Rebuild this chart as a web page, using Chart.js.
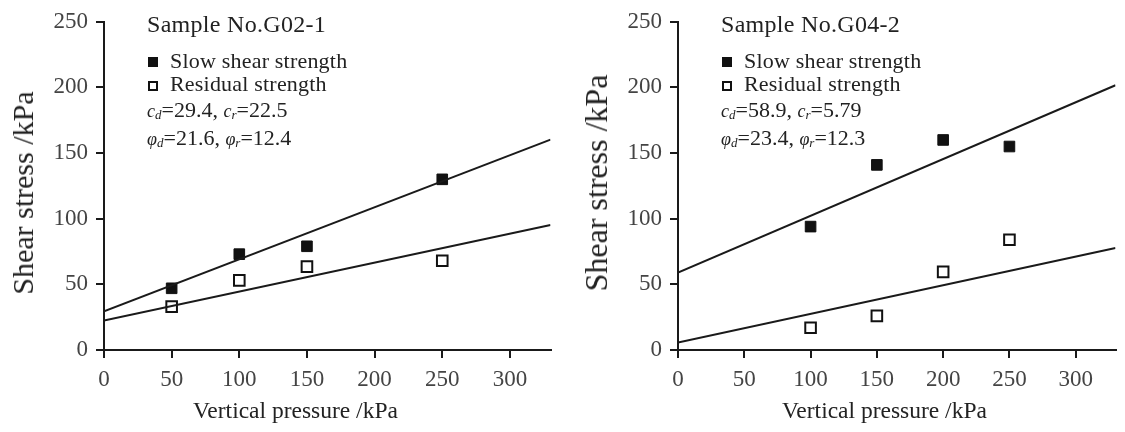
<!DOCTYPE html>
<html lang="en">
<head>
    <meta charset="UTF-8">
    <title>Shear strength vs vertical pressure</title>
    <script src="https://cdn.jsdelivr.net/npm/chart.js"></script>
    <style>
        * {
            margin: 0;
            padding: 0;
            box-sizing: border-box;
        }

        body {
            width: 1125px;
            height: 432px;
            overflow: hidden;
            background: #fff;
            font-family: 'Liberation Serif', 'Times New Roman', serif;
            color: #222;
        }

        .panel {
            position: absolute;
            top: 0;
            height: 432px;
        }

        #panelLeft { left: 0; width: 560px; }
        #panelRight { left: 574px; width: 551px; }

        .txt {
            position: absolute;
            white-space: nowrap;
            line-height: 1;
        }

        .sample { left: 147px; top: 12px; font-size: 24px; letter-spacing: 0.3px; }
        .item { left: 170px; font-size: 22px; letter-spacing: 0.2px; }
        .item1 { top: 50px; }
        .item2 { top: 73px; }
        .param { left: 147px; font-size: 22px; }
        .param1 { top: 99px; }
        .param2 { top: 127px; }
        .param i { font-size: 18px; }
        .param sub { font-size: 13px; font-style: italic; vertical-align: -2px; }

        .mark {
            position: absolute;
            left: 148px;
            width: 10px;
            height: 10px;
        }
        .mark1 { top: 57px; background: #111; }
        .mark2 { top: 81px; border: 2px solid #111; background: #fff; }

        .ytitle {
            position: absolute;
            white-space: nowrap;
            line-height: 1;
            left: 23px;
            transform: translate(-50%, -50%) rotate(-90deg);
        }

        .xtitle { top: 399px; font-size: 23.5px; }
    </style>
</head>
<body>
    <div class="panel" id="panelLeft">
        <canvas id="chartG02" width="560" height="432"></canvas>
        <div class="ytitle" style="top: 193px; font-size: 30px;">Shear stress /kPa</div>
        <div class="txt xtitle" style="left: 193px;">Vertical pressure /kPa</div>
        <div class="txt sample">Sample No.G02-1</div>
        <span class="mark mark1"></span>
        <div class="txt item item1">Slow shear strength</div>
        <span class="mark mark2"></span>
        <div class="txt item item2">Residual strength</div>
        <div class="txt param param1"><i>c</i><sub>d</sub>=29.4, <i>c</i><sub>r</sub>=22.5</div>
        <div class="txt param param2"><i>φ</i><sub>d</sub>=21.6, <i>φ</i><sub>r</sub>=12.4</div>
    </div>
    <div class="panel" id="panelRight">
        <canvas id="chartG04" width="551" height="432"></canvas>
        <div class="ytitle" style="top: 183px; font-size: 32px; left: 22px;">Shear stress /kPa</div>
        <div class="txt xtitle" style="left: 208px;">Vertical pressure /kPa</div>
        <div class="txt sample">Sample No.G04-2</div>
        <span class="mark mark1"></span>
        <div class="txt item item1">Slow shear strength</div>
        <span class="mark mark2"></span>
        <div class="txt item item2">Residual strength</div>
        <div class="txt param param1"><i>c</i><sub>d</sub>=58.9, <i>c</i><sub>r</sub>=5.79</div>
        <div class="txt param param2"><i>φ</i><sub>d</sub>=23.4, <i>φ</i><sub>r</sub>=12.3</div>
    </div>

    <script>
        // Sample G02-1
        const pressureG02 = [50, 100, 150, 250];
        const slowG02 = [47, 73, 79, 130];
        const residualG02 = [33, 53, 63.5, 68];

        // Sample G04-2
        const pressureG04 = [100, 150, 200, 250];
        const slowG04 = [94, 141, 160, 155];
        const residualG04 = [17, 26, 59.5, 84];

        // fitted lines, read at x = 0 and x = 330
        const fitPressure = [0, 330];
        const slowFitG02 = [29.4, 160.2];
        const residualFitG02 = [22.5, 95.2];
        const slowFitG04 = [58.9, 201.7];
        const residualFitG04 = [5.79, 77.7];

        const xTicks = [0, 50, 100, 150, 200, 250, 300];
        const yTicks = [0, 50, 100, 150, 200, 250];

        const ink = '#1a1a1a';
        const serif = "'Liberation Serif', 'Times New Roman', serif";

        function points(xs, ys) {
            return xs.map((x, i) => ({ x: x, y: ys[i] }));
        }

        function makeChart(id, pressure, slow, residual, slowFit, residualFit) {
            const ctx = document.getElementById(id).getContext('2d');
            return new Chart(ctx, {
                type: 'scatter',
                data: {
                    datasets: [
                        {
                            label: 'Slow shear fit',
                            type: 'line',
                            data: points(fitPressure, slowFit),
                            borderColor: ink,
                            borderWidth: 2,
                            pointRadius: 0
                        },
                        {
                            label: 'Residual fit',
                            type: 'line',
                            data: points(fitPressure, residualFit),
                            borderColor: ink,
                            borderWidth: 2,
                            pointRadius: 0
                        },
                        {
                            label: 'Slow shear strength',
                            data: points(pressure, slow),
                            pointStyle: 'rect',
                            pointRadius: 7.5,
                            backgroundColor: '#111',
                            borderColor: '#111',
                            borderWidth: 1
                        },
                        {
                            label: 'Residual strength',
                            data: points(pressure, residual),
                            pointStyle: 'rect',
                            pointRadius: 7.5,
                            backgroundColor: '#fff',
                            borderColor: '#111',
                            borderWidth: 2
                        }
                    ]
                },
                options: {
                    responsive: false,
                    animation: false,
                    layout: { padding: { top: 15, right: 1, bottom: 0, left: 0 } },
                    plugins: {
                        legend: { display: false },
                        tooltip: { enabled: false }
                    },
                    scales: {
                        x: {
                            type: 'linear',
                            min: 0,
                            max: 330,
                            afterFit: s => { s.height = 82; },
                            afterBuildTicks: s => { s.ticks = xTicks.map(v => ({ value: v })); },
                            border: { color: ink, width: 2 },
                            grid: { drawOnChartArea: false, tickLength: 8, color: ink, lineWidth: 2 },
                            ticks: { color: '#444', padding: 8, font: { family: serif, size: 23 } }
                        },
                        y: {
                            min: 0,
                            max: 250,
                            afterFit: s => { s.width = 104; },
                            afterBuildTicks: s => { s.ticks = yTicks.map(v => ({ value: v })); },
                            border: { color: ink, width: 2 },
                            grid: { drawOnChartArea: false, tickLength: 8, color: ink, lineWidth: 2 },
                            ticks: { color: '#444', padding: 8, font: { family: serif, size: 23 } }
                        }
                    }
                }
            });
        }

        makeChart('chartG02', pressureG02, slowG02, residualG02, slowFitG02, residualFitG02);
        makeChart('chartG04', pressureG04, slowG04, residualG04, slowFitG04, residualFitG04);
    </script>
</body>
</html>
